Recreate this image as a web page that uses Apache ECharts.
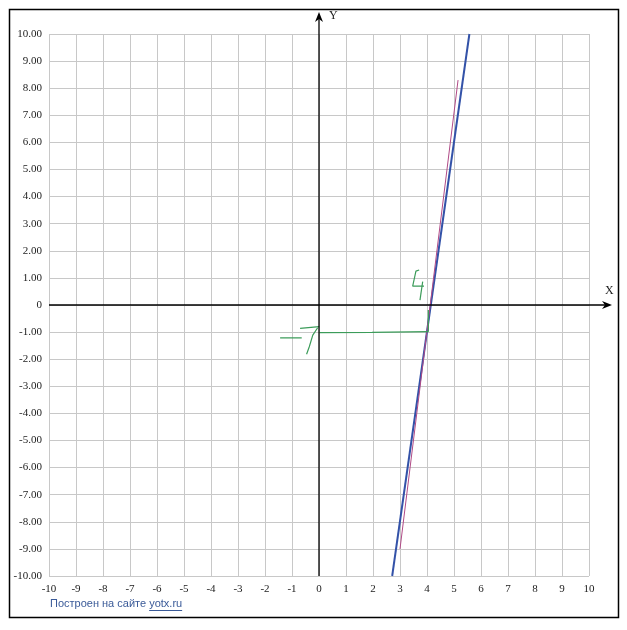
<!DOCTYPE html>
<html>
<head>
<meta charset="utf-8">
<script src="https://cdn.jsdelivr.net/npm/echarts@6/dist/echarts.min.js"></script>
<style>
html,body{margin:0;padding:0;background:#fff;}
#chart{width:627px;height:630px;}
</style>
</head>
<body>
<div id="chart"></div>
<script>
// axis ranges / ticks
const xTicks = [-10,-9,-8,-7,-6,-5,-4,-3,-2,-1,0,1,2,3,4,5,6,7,8,9,10];
const yTicks = [-10,-9,-8,-7,-6,-5,-4,-3,-2,-1,0,1,2,3,4,5,6,7,8,9,10];
// main plotted line (blue)
const blueLine = [[2.71,-10],[5.57,10]];
// thin hand-drawn line (purple/red)
const redLine = [[3.0,-9.0],[5.15,8.3]];
// green hand annotations
const greenHoriz = [[0.01,-1.02],[1.96,-1.01],[1.96,-0.985],[4.05,-0.985]];
const greenVert = [[4.05,-0.985],[4.05,-0.18]];
const greenDash = [[-1.44,-1.21],[-0.64,-1.21]];
const greenOneTop = [[-0.70,-0.86],[0.01,-0.80]];
const greenOneStem = [[-0.05,-0.84],[-0.23,-1.11],[-0.36,-1.54],[-0.46,-1.82]];
const greenFour1 = [[3.71,1.29],[3.59,1.25],[3.47,0.70],[3.89,0.70]];
const greenFour2 = [[3.84,0.86],[3.74,0.18]];
const footerText = 'Построен на сайте ';
const footerLink = 'yotx.ru';

const chart = echarts.init(document.getElementById('chart'));
const labelFont = {fontFamily:'Liberation Serif', fontSize:11, color:'#222'};
function lineSeries(data, color, width){
  return {type:'line', data:data, symbol:'none', silent:true, animation:false,
    lineStyle:{color:color, width:width}, clip:true};
}
const green = '#3c9c5a';
chart.setOption({
  animation:false,
  grid:{left:49, right:38, top:34, bottom:54},
  xAxis:{type:'value', min:xTicks[0], max:xTicks[xTicks.length-1], interval:1,
    axisLine:{show:false}, axisTick:{show:false},
    splitLine:{show:true, lineStyle:{color:'#c8c8c8', width:1}},
    axisLabel:Object.assign({margin:8, formatter:v=>String(v)}, labelFont)},
  yAxis:{type:'value', min:yTicks[0], max:yTicks[yTicks.length-1], interval:1,
    axisLine:{show:false}, axisTick:{show:false},
    splitLine:{show:true, lineStyle:{color:'#c8c8c8', width:1}},
    axisLabel:Object.assign({margin:7, formatter:v=> v===0 ? '0' : v.toFixed(2)}, labelFont)},
  series:[
    lineSeries(blueLine,'#3352a8',2),
    lineSeries(redLine,'#b04a86',1),
    lineSeries(greenHoriz,green,1.2),
    lineSeries(greenVert,green,1.2),
    lineSeries(greenDash,green,1.2),
    lineSeries(greenOneTop,green,1.2),
    lineSeries(greenOneStem,green,1.2),
    lineSeries(greenFour1,green,1.2),
    lineSeries(greenFour2,green,1.2)
  ]
});

const o = chart.convertToPixel({xAxisIndex:0,yAxisIndex:0},[0,0]);
const bl = chart.convertToPixel({xAxisIndex:0,yAxisIndex:0},[xTicks[0],yTicks[0]]);
const tr = chart.convertToPixel({xAxisIndex:0,yAxisIndex:0},[xTicks[xTicks.length-1],yTicks[yTicks.length-1]]);
const x0=o[0], y0=o[1];
const xEnd = tr[0]+23, yTop = tr[1]-22;

const footFont = '11px "Liberation Sans"';
const ctx = document.createElement('canvas').getContext('2d');
ctx.font = footFont;
const w1 = ctx.measureText(footerText).width;
const w2 = ctx.measureText(footerLink).width;
const fx = bl[0]+1, fy = 598;

chart.setOption({
  graphic:[
    {type:'rect', shape:{x:9.5,y:9.5,width:609,height:608}, style:{fill:'none',stroke:'#000',lineWidth:1.5}, z:100},
    {type:'line', shape:{x1:bl[0],y1:y0,x2:xEnd-6,y2:y0}, style:{stroke:'#000',lineWidth:1.3}, z:50},
    {type:'polygon', shape:{points:[[xEnd,y0],[xEnd-10,y0-4],[xEnd-7,y0],[xEnd-10,y0+4]]}, style:{fill:'#000'}, z:50},
    {type:'line', shape:{x1:x0,y1:bl[1],x2:x0,y2:yTop+6}, style:{stroke:'#000',lineWidth:1.3}, z:50},
    {type:'polygon', shape:{points:[[x0,yTop],[x0-4,yTop+10],[x0,yTop+7],[x0+4,yTop+10]]}, style:{fill:'#000'}, z:50},
    {type:'text', left:x0+10, top:yTop-2, style:{text:'Y', font:'12px "Liberation Serif"', fill:'#222'}, z:50},
    {type:'text', left:xEnd-7, top:y0-20, style:{text:'X', font:'12px "Liberation Serif"', fill:'#222'}, z:50},
    {type:'text', x:fx, y:fy, style:{text:footerText, font:footFont, fill:'#3a5a98'}, z:50},
    {type:'text', x:fx+w1, y:fy, style:{text:footerLink, font:footFont, fill:'#3a5a98'}, z:50},
    {type:'line', shape:{x1:fx+w1,y1:fy+12.5,x2:fx+w1+w2,y2:fy+12.5}, style:{stroke:'#3a5a98',lineWidth:1}, z:50}
  ]
});
</script>
</body>
</html>
